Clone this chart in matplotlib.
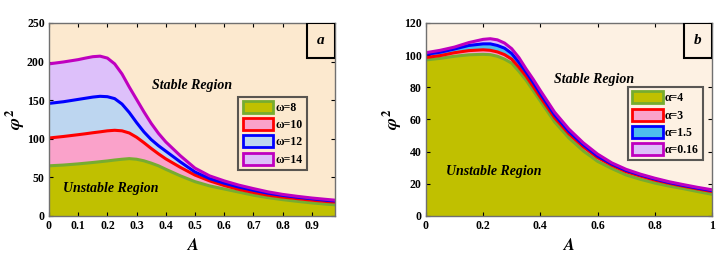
import matplotlib
matplotlib.use("Agg")
import matplotlib.pyplot as plt
from matplotlib.patches import Patch, Rectangle
from matplotlib.ticker import FormatStrFormatter

plt.rcParams["font.family"] = ["Liberation Serif", "DejaVu Serif"]
plt.rcParams["font.weight"] = "bold"
plt.rcParams["mathtext.fontset"] = "stix"

# --- panel a: omega ---
A_a = [0, 0.05, 0.1, 0.125, 0.15, 0.175, 0.2, 0.225, 0.25, 0.275, 0.3, 0.325, 0.35,
       0.375, 0.4, 0.45, 0.5, 0.55, 0.6, 0.65, 0.7, 0.75, 0.8, 0.85, 0.9, 0.95, 0.98]
w8 = [65, 66, 67.5, 68.4, 69.3, 70.3, 71.3, 72.5, 73.5, 74.3, 73.5, 71.5, 68.5,
      65, 60.5, 52, 44.5, 39, 35, 31, 27, 23.8, 21.2, 19, 17, 15.3, 14.5]
w10 = [101, 103, 105.3, 106.5, 107.8, 109, 110.3, 111, 110.3, 107.5, 102, 95, 87.5,
       80.5, 74, 63, 53, 45.5, 39.5, 34.5, 30.5, 27, 24.5, 22.5, 20.5, 18.8, 18]
w12 = [145.8, 148, 151, 152.5, 154, 155, 154.5, 152, 145, 134, 121, 109, 99,
       91, 84, 70, 57, 48.5, 42.5, 37.5, 33.3, 29.5, 26.7, 24.3, 22.3, 20.3, 19.5]
w14 = [197, 199.5, 202.5, 204.5, 206.3, 207, 204.5, 197, 184, 167, 151, 135, 120,
       107, 96, 78, 62, 52, 45.5, 40, 35.5, 31.3, 28, 25.5, 23.3, 21.5, 20.5]
labels_a = ["ω=8", "ω=10", "ω=12", "ω=14"]

# --- panel b: alpha ---
A_b = [0, 0.05, 0.1, 0.15, 0.2, 0.225, 0.25, 0.275, 0.3, 0.325, 0.35, 0.375, 0.4,
       0.45, 0.5, 0.55, 0.6, 0.65, 0.7, 0.75, 0.8, 0.85, 0.9, 0.95, 1.0]
a4 = [97, 98, 99.3, 100.2, 100.5, 100.3, 99.3, 97.5, 95, 90, 84.5, 78, 71.5,
      58.5, 48.5, 40.5, 34, 29.5, 25.5, 22.8, 20.5, 18.6, 17, 15.2, 13.5]
a3 = [98.5, 99.7, 101.5, 102.8, 103.3, 103, 102, 100.3, 97.5, 92.5, 87, 80.5, 73.8,
      61, 51, 43, 36.3, 31.5, 27.5, 24.8, 22.3, 20.3, 18.5, 16.8, 15.2]
a15 = [100.5, 101.8, 103.8, 106, 107, 107, 106, 104.3, 101, 95.5, 89.5, 83, 76,
       62.8, 52.5, 44.3, 37.3, 32.3, 28.3, 25.5, 23, 20.8, 19, 17.3, 15.8]
a016 = [101.5, 103, 105, 107.8, 109.8, 110.2, 109.5, 107.5, 104, 98.5, 91.5, 85, 78,
        64.5, 54, 45.5, 38.5, 33, 29, 26, 23.5, 21.3, 19.5, 17.8, 16.3]
labels_b = ["α=4", "α=3", "α=1.5", "α=0.16"]

edge = ["#77AC30", "#FF0000", "#0000FF", "#BF00BF"]
fill_a = ["#C0C000", "#FAA2CA", "#BDD6F0", "#DDC0FA"]
fill_b = ["#C0C000", "#FAA2CA", "#4DBEEE", "#DDC0FA"]

fig = plt.figure(figsize=(7.28, 2.70), dpi=100)
ax1 = fig.add_axes([0.0673, 0.2, 0.393, 0.715])
ax2 = fig.add_axes([0.585, 0.2, 0.393, 0.715])


def draw(ax, x, series, fills, labels, bg, xlim, ylim, xticks, yticks, tag,
         stable_xy, unstable_xy, leg_anchor):
    ax.set_facecolor(bg)
    # biggest first so the smaller ones sit on top
    for y, fc in zip(series[::-1], fills[::-1]):
        ax.fill_between(x, 0, y, color=fc, lw=0)
    for y, ec in zip(series, edge):
        ax.plot(x, y, color=ec, lw=2.2, solid_joinstyle="round")
    ax.set_xlim(*xlim)
    ax.set_ylim(*ylim)
    ax.set_xticks(xticks)
    ax.set_yticks(yticks)
    ax.xaxis.set_major_formatter(FormatStrFormatter("%g"))
    ax.tick_params(direction="in", top=True, right=True, labelsize=8.5,
                   length=3, pad=3)
    for s in ax.spines.values():
        s.set_color("#707070")
        s.set_linewidth(1.0)
    ax.set_xlabel("$A$", fontsize=12, labelpad=4)
    ax.set_ylabel(r"$\varphi^{2}$", fontsize=13, labelpad=0)
    ax.text(*stable_xy, "Stable Region", fontsize=10, style="italic",
            weight="bold", ha="center", va="center")
    ax.text(*unstable_xy, "Unstable Region", fontsize=10, style="italic",
            weight="bold", ha="center", va="center")
    handles = [Patch(facecolor=f, edgecolor=e, lw=2) for f, e in zip(fills, edge)]
    leg = ax.legend(handles, labels, loc="upper right", bbox_to_anchor=leg_anchor,
                    fontsize=8.5, frameon=True, fancybox=False, handlelength=2.6,
                    handleheight=1.2, handletextpad=0.2, labelspacing=0.35,
                    borderpad=0.35, borderaxespad=0)
    leg.get_frame().set_edgecolor("#303030")
    leg.get_frame().set_linewidth(1.5)
    leg.get_frame().set_facecolor(bg)
    ax.add_patch(Rectangle((0.903, 0.819), 0.097, 0.181, transform=ax.transAxes,
                           facecolor=bg, edgecolor="black", lw=1.5, zorder=5))
    ax.text(0.951, 0.91, tag, transform=ax.transAxes, fontsize=11, style="italic",
            weight="bold", ha="center", va="center", zorder=6)


draw(ax1, A_a, [w8, w10, w12, w14], fill_a, labels_a, "#FCE9CF",
     (0, 0.98), (0, 250), [0, 0.1, 0.2, 0.3, 0.4, 0.5, 0.6, 0.7, 0.8, 0.9],
     [0, 50, 100, 150, 200, 250], "a", (0.49, 169), (0.21, 36), (0.902, 0.617))
draw(ax2, A_b, [a4, a3, a15, a016], fill_b, labels_b, "#FDF1E3",
     (0, 1), (0, 120), [0, 0.2, 0.4, 0.6, 0.8, 1.0],
     [0, 20, 40, 60, 80, 100, 120], "b", (0.587, 85), (0.238, 27.5), (0.969, 0.667))

fig.savefig("out.png", dpi=100)
